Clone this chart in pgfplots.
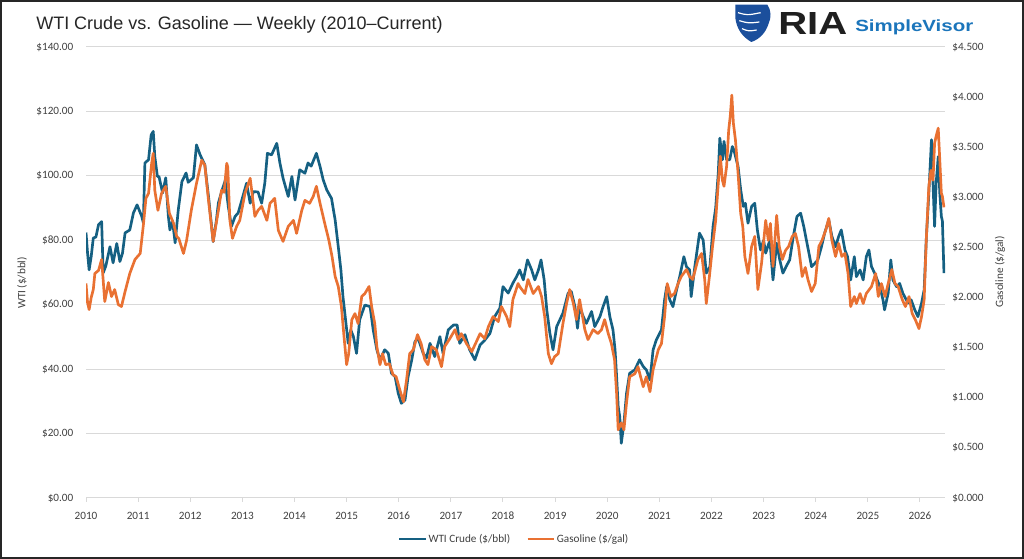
\documentclass[border=0pt]{standalone}
\usepackage{pgfplots}
\pgfplotsset{compat=1.18}
\usepackage{pgfplotstable}
\usepackage{fontspec}
\setmainfont{Carlito}
\newfontfamily\titlefont{Liberation Sans}
\definecolor{wti}{HTML}{156082}
\definecolor{gas}{HTML}{E97132}
\definecolor{gridc}{HTML}{D9D9D9}
\definecolor{txt}{HTML}{404040}
\definecolor{logoblue}{HTML}{1B4F9C}
\definecolor{svblue}{HTML}{1B75BB}

\pgfplotstableread{
x y
2010.00 82.4
2010.03 76
2010.06 70.8
2010.10 75
2010.14 80.7
2010.19 81
2010.24 84.8
2010.30 85.8
2010.33 69.9
2010.38 72
2010.46 78
2010.52 73
2010.59 79
2010.65 73.4
2010.70 76
2010.75 82.3
2010.84 83.2
2010.91 88.5
2010.98 91
2011.07 87.4
2011.10 85.4
2011.13 104
2011.20 105
2011.25 112.7
2011.29 113.8
2011.32 106
2011.37 99.8
2011.40 99.8
2011.47 94.7
2011.53 99.4
2011.58 87.4
2011.61 83.2
2011.66 86
2011.71 79.2
2011.77 89.4
2011.84 98.2
2011.92 100.9
2011.96 98
2012.06 99.4
2012.12 109.6
2012.19 106.5
2012.28 103.4
2012.35 93.6
2012.44 79.6
2012.50 86
2012.54 91.6
2012.60 95
2012.67 98.5
2012.73 90.5
2012.79 84.3
2012.86 87.4
2012.92 88.5
2012.99 92.5
2013.08 97.7
2013.15 91.5
2013.21 95.1
2013.30 95
2013.37 91.5
2013.43 97.7
2013.48 107
2013.56 106.5
2013.66 110.1
2013.72 104
2013.78 99.3
2013.88 93.6
2013.95 99.8
2014.01 92.5
2014.10 101.9
2014.20 100.8
2014.26 104
2014.32 103
2014.42 107
2014.49 102.9
2014.55 98.8
2014.62 95.6
2014.71 93
2014.78 86.3
2014.84 78
2014.89 70.8
2014.93 62.5
2014.98 55.3
2015.03 48
2015.08 52.2
2015.13 50.1
2015.19 44.9
2015.25 55.3
2015.35 59.9
2015.45 59.4
2015.51 52.2
2015.58 46
2015.64 42.9
2015.73 46
2015.80 44.9
2015.86 38.7
2015.93 37.7
2015.99 32.5
2016.05 29.4
2016.12 30.4
2016.18 37.7
2016.25 42.9
2016.31 48.5
2016.37 49.6
2016.47 44.9
2016.53 43.4
2016.60 48
2016.69 43.9
2016.79 50.1
2016.85 44.9
2016.95 52.2
2017.05 53.7
2017.12 53.7
2017.17 48
2017.27 50.7
2017.36 46
2017.46 42.9
2017.56 47.5
2017.65 49
2017.75 51.1
2017.84 56.3
2017.94 58.9
2018.00 65.6
2018.10 63.6
2018.19 66.7
2018.26 68.7
2018.32 70.8
2018.39 67.7
2018.47 73.9
2018.55 70.8
2018.61 67.7
2018.68 70.8
2018.73 73.9
2018.79 67.7
2018.84 58.4
2018.90 51.1
2018.96 46
2019.03 53.2
2019.09 55.3
2019.15 57.4
2019.25 63.6
2019.31 64.1
2019.38 59.4
2019.43 52.7
2019.47 59.4
2019.54 56.3
2019.60 54.2
2019.70 57.9
2019.76 53.2
2019.86 56.3
2019.92 59.4
2019.99 62.5
2020.05 56.3
2020.11 52.2
2020.15 46
2020.18 37.7
2020.21 28.4
2020.24 25.2
2020.27 17
2020.32 23.2
2020.37 32.5
2020.43 38.7
2020.53 39.8
2020.62 42.9
2020.69 40.8
2020.75 39.8
2020.82 36.6
2020.88 46
2020.94 49
2021.04 52.2
2021.10 61.5
2021.14 65.6
2021.20 61.5
2021.26 59.4
2021.33 64.6
2021.39 68.7
2021.47 74.9
2021.52 71.8
2021.58 70.8
2021.61 62.5
2021.68 71.8
2021.77 82.2
2021.84 80.1
2021.90 69.8
2021.97 71.8
2022.03 84.3
2022.08 90
2022.13 100.8
2022.16 111.7
2022.21 105
2022.24 110.7
2022.29 105
2022.35 105
2022.40 109.1
2022.43 108
2022.51 102.9
2022.56 95.7
2022.61 90.5
2022.65 91.5
2022.70 85.3
2022.77 90.5
2022.83 91.5
2022.88 83.2
2022.94 77
2023.00 80
2023.04 76
2023.12 80.1
2023.18 67.7
2023.25 79.1
2023.31 73.9
2023.37 69.8
2023.43 71.8
2023.50 73.9
2023.57 81.2
2023.64 87.4
2023.71 88.4
2023.77 84.3
2023.82 80.1
2023.87 76
2023.92 71.8
2023.98 72.8
2024.04 73.9
2024.11 78
2024.17 82.2
2024.25 86.3
2024.31 81.2
2024.38 78
2024.44 81.2
2024.49 83.2
2024.56 77
2024.61 74.9
2024.67 67.7
2024.74 74.9
2024.78 68.7
2024.85 70.8
2024.91 67.7
2024.97 74.9
2025.02 77
2025.07 71.8
2025.13 69.8
2025.23 65.6
2025.29 61.5
2025.32 58.4
2025.39 63.6
2025.44 73.9
2025.48 67.7
2025.55 65.6
2025.61 66.6
2025.67 63.6
2025.77 60.5
2025.83 61.5
2025.90 58.4
2025.96 56.3
2026.03 60.5
2026.08 64.6
2026.12 80.1
2026.17 94.6
2026.22 111.2
2026.25 97.7
2026.28 84.3
2026.31 97.7
2026.35 106
2026.38 94.6
2026.41 87.4
2026.43 86
2026.46 69.8
}\wtidata

\pgfplotstableread{
x y
2010.00 2.14
2010.03 1.95
2010.06 1.88
2010.10 2.00
2010.14 2.08
2010.17 2.24
2010.24 2.27
2010.30 2.38
2010.36 1.96
2010.43 2.15
2010.49 2.01
2010.55 2.08
2010.62 1.93
2010.68 1.91
2010.75 2.06
2010.84 2.24
2010.94 2.38
2011.04 2.44
2011.10 2.72
2011.15 2.99
2011.20 3.04
2011.26 3.34
2011.29 3.44
2011.32 3.07
2011.38 2.87
2011.45 3.04
2011.53 3.11
2011.60 2.84
2011.68 2.74
2011.74 2.61
2011.78 2.59
2011.87 2.44
2011.93 2.57
2012.02 2.87
2012.12 3.14
2012.22 3.37
2012.28 3.32
2012.35 2.97
2012.44 2.56
2012.54 2.87
2012.60 3.07
2012.65 3.05
2012.70 3.34
2012.72 3.30
2012.76 2.77
2012.81 2.59
2012.89 2.71
2012.95 2.77
2013.05 3.04
2013.15 3.19
2013.24 2.81
2013.30 2.87
2013.37 2.91
2013.47 2.77
2013.53 2.94
2013.62 2.99
2013.69 2.67
2013.78 2.56
2013.88 2.71
2013.98 2.77
2014.04 2.64
2014.14 2.87
2014.20 2.97
2014.29 2.94
2014.36 3.01
2014.42 3.11
2014.49 2.94
2014.58 2.74
2014.66 2.57
2014.72 2.41
2014.78 2.21
2014.84 2.11
2014.90 1.91
2014.95 1.61
2015.00 1.33
2015.04 1.44
2015.10 1.78
2015.16 1.84
2015.22 1.74
2015.29 2.01
2015.35 2.04
2015.43 2.11
2015.48 1.91
2015.54 1.74
2015.58 1.51
2015.64 1.33
2015.69 1.44
2015.75 1.33
2015.82 1.34
2015.89 1.23
2015.95 1.21
2016.02 1.08
2016.09 0.96
2016.15 1.18
2016.21 1.44
2016.28 1.48
2016.36 1.63
2016.43 1.54
2016.50 1.38
2016.56 1.33
2016.63 1.51
2016.72 1.48
2016.82 1.31
2016.88 1.51
2016.98 1.59
2017.08 1.68
2017.14 1.58
2017.20 1.64
2017.30 1.54
2017.40 1.46
2017.49 1.56
2017.56 1.64
2017.65 1.59
2017.72 1.71
2017.81 1.81
2017.91 1.76
2017.97 1.91
2018.07 1.81
2018.13 1.71
2018.19 1.98
2018.29 2.14
2018.32 2.11
2018.42 2.04
2018.48 2.18
2018.58 2.04
2018.68 2.11
2018.74 2.01
2018.80 1.81
2018.87 1.44
2018.93 1.34
2018.99 1.41
2019.06 1.44
2019.15 1.74
2019.22 1.94
2019.28 2.08
2019.35 1.94
2019.41 1.78
2019.47 1.98
2019.57 1.68
2019.63 1.58
2019.73 1.68
2019.82 1.64
2019.89 1.68
2019.95 1.78
2020.02 1.64
2020.08 1.54
2020.14 1.38
2020.18 1.04
2020.21 0.68
2020.27 0.75
2020.32 0.68
2020.37 0.95
2020.43 1.21
2020.53 1.24
2020.59 1.31
2020.69 1.11
2020.75 1.21
2020.82 1.06
2020.88 1.28
2020.98 1.48
2021.04 1.54
2021.10 1.81
2021.15 2.14
2021.22 2.01
2021.29 2.04
2021.36 2.14
2021.42 2.21
2021.52 2.28
2021.58 2.21
2021.64 2.18
2021.74 2.38
2021.81 2.44
2021.87 2.18
2021.90 1.94
2021.96 2.21
2022.02 2.51
2022.08 2.77
2022.13 3.14
2022.17 3.41
2022.21 3.17
2022.24 3.11
2022.29 3.31
2022.33 3.67
2022.36 3.81
2022.39 4.02
2022.42 3.74
2022.46 3.57
2022.51 3.24
2022.56 2.84
2022.60 2.71
2022.64 2.41
2022.70 2.24
2022.77 2.51
2022.83 2.61
2022.89 2.08
2022.96 2.34
2023.04 2.77
2023.09 2.57
2023.13 2.74
2023.18 2.31
2023.25 2.82
2023.30 2.51
2023.36 2.38
2023.42 2.47
2023.48 2.51
2023.55 2.61
2023.61 2.64
2023.67 2.51
2023.74 2.21
2023.80 2.30
2023.85 2.18
2023.92 2.06
2023.99 2.14
2024.06 2.51
2024.12 2.57
2024.19 2.67
2024.25 2.79
2024.31 2.57
2024.38 2.41
2024.44 2.54
2024.50 2.41
2024.56 2.44
2024.62 2.24
2024.67 1.91
2024.74 2.01
2024.78 1.94
2024.85 2.04
2024.91 1.94
2024.97 2.04
2025.07 2.11
2025.15 2.24
2025.20 2.01
2025.26 2.14
2025.33 2.01
2025.39 2.14
2025.46 2.28
2025.52 2.14
2025.58 2.11
2025.66 1.98
2025.72 1.91
2025.79 2.01
2025.85 1.84
2025.91 1.78
2025.98 1.69
2026.03 1.81
2026.08 1.98
2026.12 2.57
2026.17 3.11
2026.21 3.27
2026.25 3.17
2026.28 3.54
2026.31 3.61
2026.35 3.69
2026.38 3.37
2026.41 3.04
2026.43 3.01
2026.46 2.90
}\gasdata

\pgfplotsset{
  common/.style={
    at={(0pt,0pt)}, anchor=south west,
    scale only axis, width=644.25pt, height=338.25pt,
    xmin=2010, xmax=2026.48,
    ymin=0,
    tick label style={font=\fontsize{8.4pt}{10pt}\selectfont, text=txt},
    /pgf/number format/assume math mode=true,
  },
}

\begin{document}
\begin{tikzpicture}
\useasboundingbox (-64.5pt,-45.75pt) rectangle (703.5pt,373.5pt);
\fill[white] (-64.5pt,-45.75pt) rectangle (703.5pt,373.5pt);

\begin{axis}[common,
  ymax=140,
  axis x line*=bottom, axis y line*=left,
  x axis line style={draw=gridc, line width=0.75pt},
  y axis line style={draw=none},
  xtick={2010,2011,...,2026},
  xticklabels={2010,2011,2012,2013,2014,2015,2016,2017,2018,2019,2020,2021,2022,2023,2024,2025,2026},
  xtick style={draw=gridc, line width=0.75pt},
  tick align=outside, major tick length=3pt,
  ytick={0,20,...,140},
  yticklabels={\$0.00,\$20.00,\$40.00,\$60.00,\$80.00,\$100.00,\$120.00,\$140.00},
  ytick style={draw=none},
  ymajorgrids, grid style={gridc, line width=0.75pt},
  xticklabel style={yshift=-3.5pt, text height=6pt, text depth=0pt},
  yticklabel style={xshift=-3pt},
]
\addplot[wti, line width=2pt, line join=round, no markers] table[x=x,y=y] {\wtidata};
\end{axis}

\begin{axis}[common,
  ymax=4.5,
  axis x line=none, axis y line*=right,
  y axis line style={draw=none},
  ytick={0,0.5,...,4.5},
  yticklabels={\$0.000,\$0.500,\$1.000,\$1.500,\$2.000,\$2.500,\$3.000,\$3.500,\$4.000,\$4.500},
  ytick style={draw=none},
  yticklabel style={xshift=2pt},
  legend style={at={(0.498,-0.0909)}, anchor=center, draw=none, fill=none,
    legend columns=2, font=\fontsize{8.4pt}{10pt}\selectfont, text=txt,
    /tikz/every even column/.append style={column sep=11pt},
    nodes={inner sep=1pt}},
  legend image code/.code={\draw[#1, line width=2pt] (0pt,0pt) -- (20pt,0pt);},
]
\addlegendimage{wti}
\addlegendentry{WTI Crude (\$/bbl)}
\addplot[gas, line width=2pt, line join=round, no markers] table[x=x,y=y] {\gasdata};
\addlegendentry{Gasoline (\$/gal)}
\end{axis}

% axis titles
\node[rotate=90, font=\fontsize{8.4pt}{10pt}\selectfont, text=txt] at (-48pt,161.25pt) {WTI (\$/bbl)};
\node[rotate=90, font=\fontsize{8.4pt}{10pt}\selectfont, text=txt] at (685.5pt,169.5pt) {Gasoline (\$/gal)};

% title
\node[anchor=base west, inner sep=0pt, font=\titlefont\fontsize{13.5pt}{16pt}\selectfont, text=black!85] at (-37.5pt,351pt) {WTI Crude vs. Gasoline — Weekly (2010–Current)};

% logo
\fill[logoblue] (487pt,370pt) -- (511pt,370pt) .. controls (514pt,366pt) and (514pt,360pt) .. (512pt,356pt)
   .. controls (510pt,349pt) and (505pt,344pt) .. (499pt,342pt)
   .. controls (492pt,346pt) and (488pt,352pt) .. (487pt,360pt) -- cycle;
\draw[white, line width=0.9pt] (489pt,364pt) .. controls (496pt,362pt) .. (506pt,364pt);
\draw[white, line width=0.9pt] (490pt,358pt) .. controls (497pt,356pt) .. (505pt,357pt);
\draw[white, line width=0.9pt] (492pt,352pt) .. controls (497pt,350pt) .. (503pt,351pt);
\node[anchor=south west, inner sep=0pt, text=black!88] at (519pt,347.25pt) {\resizebox{51.75pt}{16.5pt}{\titlefont\bfseries RIA}};
\node[anchor=base west, inner sep=0pt, text=svblue] at (576.75pt,349.5pt) {\resizebox{88.5pt}{8.8pt}{\titlefont\bfseries SimpleVisor}};

% frame
\draw[black!85, line width=1.5pt] (-63.75pt,-45pt) rectangle (702.75pt,372.75pt);
\end{tikzpicture}
\end{document}
